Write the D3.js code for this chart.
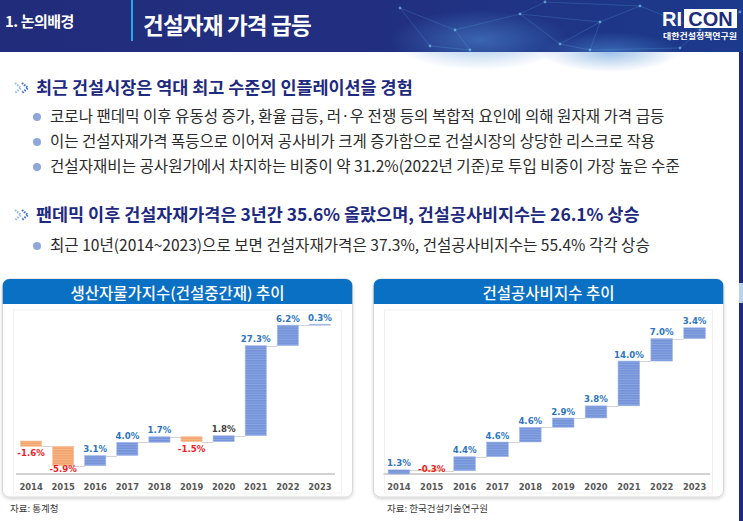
<!DOCTYPE html>
<html><head><meta charset="utf-8">
<script src="https://cdn.jsdelivr.net/npm/d3@7"></script>
<style>body{margin:0;background:#fff}svg{display:block}</style>
</head><body><svg id="c" width="743" height="521"></svg>
<script>
// ---------------- data ----------------
const years = ["2014","2015","2016","2017","2018","2019","2020","2021","2022","2023"];
const ppiChanges  = [-1.6,-5.9,3.1,4.0,1.7,-1.5,1.8,27.3,6.2,0.3];   // 생산자물가지수(건설중간재) 전년비
const costChanges = [1.3,-0.3,4.4,4.6,4.6,2.9,3.8,14.0,7.0,3.4];     // 건설공사비지수 전년비
const ppiGreyYears = ["2020"];
const ppiTitle = "생산자물가지수(건설중간재) 추이";
const costTitle = "건설공사비지수 추이";
const ppiSource = "자료: 통계청";
const costSource = "자료: 한국건설기술연구원";
const sectionLabel = "1. 논의배경";
const pageTitle = "건설자재 가격 급등";
const heading1 = "최근 건설시장은 역대 최고 수준의 인플레이션을 경험";
const bullets1 = [
  "코로나 팬데믹 이후 유동성 증가, 환율 급등, 러·우 전쟁 등의 복합적 요인에 의해 원자재 가격 급등",
  "이는 건설자재가격 폭등으로 이어져 공사비가 크게 증가함으로 건설시장의 상당한 리스크로 작용",
  "건설자재비는 공사원가에서 차지하는 비중이 약 31.2%(2022년 기준)로 투입 비중이 가장 높은 수준"
];
const heading2 = "팬데믹 이후 건설자재가격은 3년간 35.6% 올랐으며, 건설공사비지수는 26.1% 상승";
const bullets2 = ["최근 10년(2014~2023)으로 보면 건설자재가격은 37.3%, 건설공사비지수는 55.4% 각각 상승"];

// ---------------- drawing ----------------
const svg = d3.select("#c");
const KR = "'Noto Sans CJK KR','Noto Sans',sans-serif";
const defs = svg.append("defs");

// header gradient
const hg = defs.append("linearGradient").attr("id","hg").attr("x1","0").attr("x2","1");
hg.append("stop").attr("offset","0").attr("stop-color","#212c7b");
hg.append("stop").attr("offset","0.5").attr("stop-color","#222f80");
hg.append("stop").attr("offset","1").attr("stop-color","#1c3a8c");
const glow = defs.append("radialGradient").attr("id","glow");
glow.append("stop").attr("offset","0").attr("stop-color","#4f8fd6").attr("stop-opacity",0.55);
glow.append("stop").attr("offset","1").attr("stop-color","#4f8fd6").attr("stop-opacity",0);

// stripe patterns for bars
function stripe(id, base, line){
  const p = defs.append("pattern").attr("id",id).attr("patternUnits","userSpaceOnUse")
    .attr("width",4).attr("height",2.5);
  p.append("rect").attr("width",4).attr("height",2.5).attr("fill",base);
  p.append("rect").attr("y",1.6).attr("width",4).attr("height",0.9).attr("fill",line);
}
stripe("pBlue","#7593d9","#8aa6e2");
stripe("pOrange","#f3a46f","#f6b787");

const sh = defs.append("filter").attr("id","sh").attr("x","-5%").attr("y","-5%").attr("width","110%").attr("height","115%");
sh.append("feDropShadow").attr("dx",0).attr("dy",1.5).attr("stdDeviation",1.5).attr("flood-color","#000").attr("flood-opacity",0.18);

// page header band
svg.append("rect").attr("width",743).attr("height",52).attr("fill","url(#hg)");
svg.append("ellipse").attr("cx",480).attr("cy",40).attr("rx",90).attr("ry",30).attr("fill","url(#glow)");
svg.append("ellipse").attr("cx",610).attr("cy",52).attr("rx",70).attr("ry",20).attr("fill","url(#glow)");
// decorative network lines (static ornament)
const netNodes = [[400,8],[455,30],[520,14],[560,44],[600,22],[640,6],[700,30],[740,12],[470,50],[590,50],[680,48],[430,46],[545,2]];
const netLinks = [[0,1],[1,2],[2,3],[3,4],[4,5],[5,6],[6,7],[1,8],[3,9],[4,9],[6,10],[0,11],[11,8],[2,12],[12,5],[2,4],[9,10]];
svg.append("g").selectAll("line").data(netLinks).join("line")
  .attr("x1",d=>netNodes[d[0]][0]).attr("y1",d=>netNodes[d[0]][1])
  .attr("x2",d=>netNodes[d[1]][0]).attr("y2",d=>netNodes[d[1]][1])
  .attr("stroke","#5fb6e6").attr("stroke-opacity",0.28).attr("stroke-width",0.8);
svg.append("g").selectAll("circle").data(netNodes).join("circle")
  .attr("cx",d=>d[0]).attr("cy",d=>d[1]).attr("r",1.4).attr("fill","#7fd0f5").attr("fill-opacity",0.6);

svg.append("text").attr("x",5).attr("y",27).attr("fill","#fff").attr("font-family",KR)
  .attr("font-size",15).attr("font-weight",700).attr("letter-spacing",-0.5).text(sectionLabel);
svg.append("line").attr("x1",132).attr("x2",132).attr("y1",0).attr("y2",41)
  .attr("stroke","#22a9e6").attr("stroke-width",2);
svg.append("text").attr("x",143).attr("y",34).attr("fill","#fff").attr("font-family",KR)
  .attr("font-size",22.5).attr("font-weight",700).attr("letter-spacing",-0.8).text(pageTitle);

// logo
svg.append("text").attr("x",662).attr("y",26).attr("fill","#fff").attr("font-family","'Liberation Sans',Arial,sans-serif")
  .attr("font-size",20).attr("font-weight",700).text("RI");
svg.append("rect").attr("x",684).attr("y",9).attr("width",53).attr("height",19).attr("fill","#fff");
svg.append("text").attr("x",710.5).attr("y",26).attr("text-anchor","middle").attr("fill","#1f2d7d")
  .attr("font-family","'Liberation Sans',Arial,sans-serif").attr("font-size",20).attr("font-weight",700).text("CON");
svg.append("text").attr("x",663).attr("y",39).attr("fill","#fff").attr("font-family",KR)
  .attr("font-size",8.3).attr("font-weight",700).attr("textLength",74).attr("lengthAdjust","spacingAndGlyphs").text("대한건설정책연구원");

// right edge strip
svg.append("rect").attr("x",739).attr("y",52).attr("width",4).attr("height",469).attr("fill","#1e2c7c");
svg.append("rect").attr("x",739).attr("y",283).attr("width",4).attr("height",20).attr("fill","#b9d3ee");

// fit helper: scale font so the text spans the wanted width
function fit(sel, w){
  const n = sel.node(); const fs = +sel.attr("font-size");
  const len = n.getComputedTextLength();
  if(len>0) sel.attr("font-size", (fs*w/len).toFixed(2));
}

function chevrons(x,y){
  const g = svg.append("g");
  [[0,"#9bbcf0"],[7,"#3e77d6"]].forEach(([dx,c])=>{
    g.append("path").attr("d",`M${x+dx},${y-5} L${x+dx+6},${y} L${x+dx},${y+5}`)
      .attr("fill","none").attr("stroke",c).attr("stroke-width",2.2).attr("stroke-dasharray","1.6,1.1");
  });
}
function heading(txt, y, w){
  chevrons(15, y);
  const t = svg.append("text").attr("x",36).attr("y",y+6).attr("fill","#1d2a80").attr("font-family",KR)
    .attr("font-size",16.5).attr("font-weight",700).text(txt);
  fit(t, w);
}
function bullet(txt, y, w){
  svg.append("circle").attr("cx",37).attr("cy",y).attr("r",4).attr("fill","#8ea8dd");
  const t = svg.append("text").attr("x",50).attr("y",y+5.3).attr("fill","#2b2b2b").attr("font-family",KR)
    .attr("font-size",14.5).text(txt);
  fit(t, w);
}
heading(heading1, 88, 377);
const b1w = [615, 605, 630];
bullets1.forEach((b,i)=>bullet(b, 117+25*i, b1w[i]));
heading(heading2, 215, 604);
bullet(bullets2[0], 246, 600);

// ---------------- waterfall panels ----------------
function panel(o){
  const g = svg.append("g");
  const id = "clip"+o.key;
  defs.append("clipPath").attr("id",id).append("rect")
    .attr("x",o.x0).attr("y",279).attr("width",o.x1-o.x0).attr("height",218).attr("rx",7);
  g.append("rect").attr("x",o.x0).attr("y",279).attr("width",o.x1-o.x0).attr("height",218).attr("rx",7)
    .attr("fill","#fff").attr("stroke","#d9d9d9").attr("filter","url(#sh)");
  g.append("rect").attr("x",o.x0).attr("y",279).attr("width",o.x1-o.x0).attr("height",25)
    .attr("fill","#0a70c4").attr("clip-path",`url(#${id})`);
  g.append("text").attr("x",(o.x0+o.x1)/2).attr("y",298.5).attr("text-anchor","middle")
    .attr("fill","#fff").attr("font-family",KR).attr("font-size",15.5).attr("font-weight",500).text(o.title);
  g.append("rect").attr("x",o.x0+11).attr("y",310).attr("width",o.x1-o.x0-22).attr("height",183)
    .attr("fill","none").attr("stroke","#f1f1f1");

  const x = d3.scaleBand().domain(years).range(o.xRange).paddingInner(0.34).paddingOuter(0.17);
  const y = d3.scaleLinear().domain(o.yDomain).range([474, o.yTop]);
  const cum = d3.cumsum(o.values);
  const rows = o.values.map((v,i)=>({year:years[i], v, start: i?cum[i-1]:0, end: cum[i]}));

  // connectors
  g.append("g").selectAll("line").data(rows.slice(0,-1)).join("line")
    .attr("x1",d=>x(d.year)+x.bandwidth()).attr("x2",(d,i)=>x(years[i+1]))
    .attr("y1",d=>Math.round(y(d.end))+0.5).attr("y2",d=>Math.round(y(d.end))+0.5)
    .attr("stroke","#d4d4d4").attr("stroke-width",1);

  // axis line
  g.append("line").attr("x1",o.xRange[0]+1).attr("x2",o.xRange[1]-1).attr("y1",474).attr("y2",474)
    .attr("stroke","#c4c4c4").attr("stroke-width",1.5);

  // bars
  g.append("g").selectAll("rect").data(rows).join("rect")
    .attr("x",d=>x(d.year)).attr("width",x.bandwidth())
    .attr("y",d=>y(Math.max(d.start,d.end)))
    .attr("height",d=>Math.max(1, Math.abs(y(d.start)-y(d.end))))
    .attr("fill",d=>d.v<0?"url(#pOrange)":"url(#pBlue)")
    .attr("stroke",d=>d.v<0?"#f7c29d":"#a9bdea").attr("stroke-width",0.6);

  // value labels
  g.append("g").selectAll("text").data(rows).join("text")
    .attr("x",d=>x(d.year)+x.bandwidth()/2).attr("text-anchor","middle")
    .attr("y",d=> d.v>=0 ? y(d.end)-3.5 : Math.min(y(d.end)+10, 472))
    .attr("font-family","'DejaVu Sans',Verdana,sans-serif").attr("font-size",8.6).attr("font-weight",700)
    .attr("fill",d=> d.v<0 ? "#ee1c25" : (o.grey.includes(d.year) ? "#404040" : "#2e75c0"))
    .text(d=>d.v.toFixed(1)+"%");

  // year axis labels
  const ax = g.append("g").attr("transform","translate(0,474)")
    .call(d3.axisBottom(x).tickSize(0).tickPadding(10));
  ax.select(".domain").remove();
  ax.selectAll("text").attr("font-family","'DejaVu Sans',Verdana,sans-serif").attr("font-size",8.4)
    .attr("font-weight",700).attr("fill","#595959");

  g.append("text").attr("x",o.srcX).attr("y",512).attr("font-family",KR).attr("font-size",9.5)
    .attr("fill","#3a3a3a").text(o.source);
}

panel({key:"a", x0:2.5, x1:352.5, title:ppiTitle, values:ppiChanges, yDomain:[-10,40], yTop:309,
       xRange:[15,336], grey:ppiGreyYears, source:ppiSource, srcX:10});
panel({key:"b", x0:373.5, x1:723.5, title:costTitle, values:costChanges, yDomain:[0,50], yTop:314,
       xRange:[382.5,711], grey:[], source:costSource, srcX:387});
</script></body></html>
